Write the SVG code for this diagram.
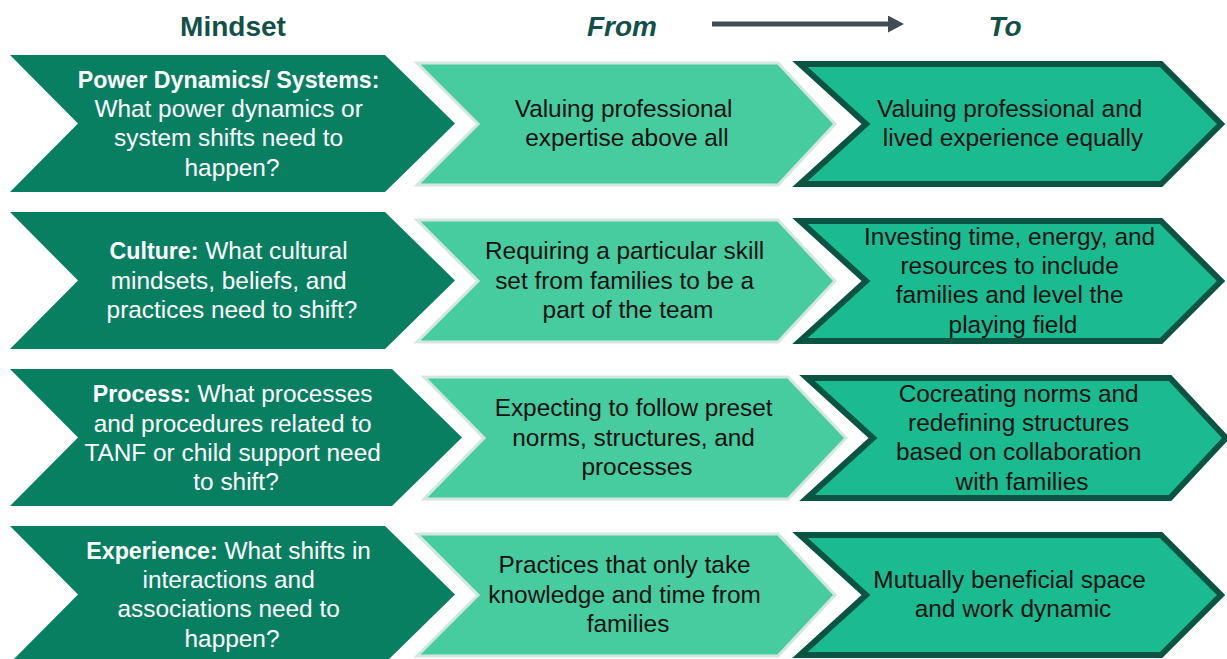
<svg xmlns="http://www.w3.org/2000/svg" xmlns:xlink="http://www.w3.org/1999/xlink" width="1227" height="659" viewBox="0 0 1227 659">
  <style>
    .head { font-family: "Liberation Sans", Arial, sans-serif; font-size: 28px; font-weight: bold; fill: #12504A; text-anchor: middle; }
    .head-i { font-style: italic; }
    .txt { font-family: "Liberation Sans", Arial, sans-serif; font-size: 24.4px; text-anchor: middle; }
    .light { fill: #FFFFFF; }
    .dark { fill: #111111; }
    .b { font-weight: bold; font-size: 23.2px; }
    .mind { fill: #097F62; }
    .from { fill: #46CC9F; stroke: #D3E7DF; stroke-width: 3; }
    .to { fill: #1BBB91; stroke: #0B5444; stroke-width: 6; stroke-linejoin: miter; }
  </style>
  <defs>
    <path id="mindShape" d="M10,55 L385,55 L455,123.5 L385,192 L10,192 L78,123.5 Z"/>
    <path id="fromShape" d="M417,63 L778,63 L835,124 L778,185 L417,185 L478,124 Z"/>
    <path id="toShape" d="M800,64 L1161,64 L1221,124 L1161,184 L800,184 L866,124 Z"/>
    <!-- the third row sits a little wider than the others -->
    <path id="mindShapeWide" d="M10,369 L392,369 L462,437.5 L392,506 L10,506 L78,437.5 Z"/>
    <path id="fromShapeWide" d="M424,377 L788,377 L846,438 L788,499 L424,499 L484,438 Z"/>
    <path id="toShapeWide" d="M807,378 L1170,378 L1226,438 L1170,498 L807,498 L873,438 Z"/>
    <marker id="head" markerUnits="userSpaceOnUse" markerWidth="17" markerHeight="18" refX="0" refY="8.5" orient="auto">
      <path d="M0,0 L16,8.5 L0,17 Z" fill="#434B55"/>
    </marker>
  </defs>

  <rect width="1227" height="659" fill="#FFFFFF"/>

  <!-- column headings -->
  <g id="headings">
    <text class="head" x="233" y="36">Mindset</text>
    <text class="head head-i" x="622" y="36">From</text>
    <text class="head head-i" x="1005" y="36">To</text>
  </g>

  <g id="connectors">
    <line x1="712" y1="24" x2="888" y2="24" stroke="#434B55" stroke-width="5" marker-end="url(#head)"/>
  </g>

  <!-- row 1 -->
  <g id="mindset-power">
    <use xlink:href="#mindShape" class="mind"/>
    <text class="txt light">
      <tspan x="232" y="87.5" class="b">Power Dynamics/ Systems:</tspan>
      <tspan x="232" y="117">What power dynamics or</tspan>
      <tspan x="232" y="146">system shifts need to</tspan>
      <tspan x="232" y="175.5">happen?</tspan>
    </text>
  </g>
  <g id="from-power">
    <use xlink:href="#fromShape" class="from"/>
    <text class="txt dark">
      <tspan x="627" y="117">Valuing professional</tspan>
      <tspan x="627" y="146">expertise above all</tspan>
    </text>
  </g>
  <g id="to-power">
    <use xlink:href="#toShape" class="to"/>
    <text class="txt dark">
      <tspan x="1013" y="117">Valuing professional and</tspan>
      <tspan x="1013" y="146">lived experience equally</tspan>
    </text>
  </g>

  <!-- row 2 -->
  <g id="mindset-culture">
    <use xlink:href="#mindShape" class="mind" y="157"/>
    <text class="txt light">
      <tspan x="232" y="259"><tspan class="b">Culture:</tspan> What cultural</tspan>
      <tspan x="232" y="288.5">mindsets, beliefs, and</tspan>
      <tspan x="232" y="318">practices need to shift?</tspan>
    </text>
  </g>
  <g id="from-culture">
    <use xlink:href="#fromShape" class="from" y="157"/>
    <text class="txt dark">
      <tspan x="628" y="259">Requiring a particular skill</tspan>
      <tspan x="628" y="288.5">set from families to be a</tspan>
      <tspan x="628" y="318">part of the team</tspan>
    </text>
  </g>
  <g id="to-culture">
    <use xlink:href="#toShape" class="to" y="157"/>
    <text class="txt dark">
      <tspan x="1013" y="244.5">Investing time, energy, and</tspan>
      <tspan x="1013" y="274">resources to include</tspan>
      <tspan x="1013" y="303">families and level the</tspan>
      <tspan x="1013" y="332.5">playing field</tspan>
    </text>
  </g>

  <!-- row 3 -->
  <g id="mindset-process">
    <use xlink:href="#mindShapeWide" class="mind"/>
    <text class="txt light">
      <tspan x="236" y="402"><tspan class="b">Process:</tspan> What processes</tspan>
      <tspan x="236" y="431.5">and procedures related to</tspan>
      <tspan x="236" y="460.5">TANF or child support need</tspan>
      <tspan x="236" y="490">to shift?</tspan>
    </text>
  </g>
  <g id="from-process">
    <use xlink:href="#fromShapeWide" class="from"/>
    <text class="txt dark">
      <tspan x="637" y="416">Expecting to follow preset</tspan>
      <tspan x="637" y="445.5">norms, structures, and</tspan>
      <tspan x="637" y="475">processes</tspan>
    </text>
  </g>
  <g id="to-process">
    <use xlink:href="#toShapeWide" class="to"/>
    <text class="txt dark">
      <tspan x="1022" y="401.5">Cocreating norms and</tspan>
      <tspan x="1022" y="431">redefining structures</tspan>
      <tspan x="1022" y="460">based on collaboration</tspan>
      <tspan x="1022" y="489.5">with families</tspan>
    </text>
  </g>

  <!-- row 4 -->
  <g id="mindset-experience">
    <use xlink:href="#mindShape" class="mind" y="471"/>
    <text class="txt light">
      <tspan x="232" y="558.5"><tspan class="b">Experience:</tspan> What shifts in</tspan>
      <tspan x="232" y="588">interactions and</tspan>
      <tspan x="232" y="617">associations need to</tspan>
      <tspan x="232" y="646.5">happen?</tspan>
    </text>
  </g>
  <g id="from-experience">
    <use xlink:href="#fromShape" class="from" y="471"/>
    <text class="txt dark">
      <tspan x="628" y="573">Practices that only take</tspan>
      <tspan x="628" y="602.5">knowledge and time from</tspan>
      <tspan x="628" y="632">families</tspan>
    </text>
  </g>
  <g id="to-experience">
    <use xlink:href="#toShape" class="to" y="471"/>
    <text class="txt dark">
      <tspan x="1013" y="588">Mutually beneficial space</tspan>
      <tspan x="1013" y="617">and work dynamic</tspan>
    </text>
  </g>
</svg>
